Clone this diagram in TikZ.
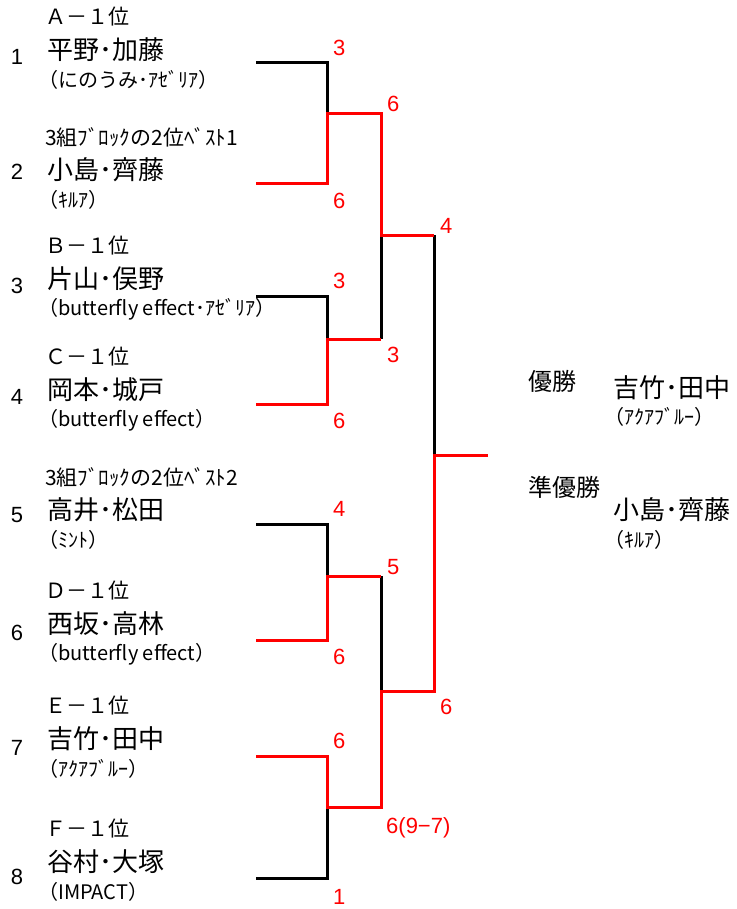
\documentclass[tikz,border=0pt]{standalone}
\usepackage{fontspec}
\setmainfont{Liberation Sans}
\newfontfamily\jp{Noto Sans CJK JP}
\usetikzlibrary{positioning,calc}
\definecolor{winred}{HTML}{FF0000}

\begin{document}
\begin{tikzpicture}[x=1pt,y=-1pt,
  seed/.style={font=\fontsize{22}{22}\selectfont, inner sep=0},
  lbl/.style={font=\jp\fontsize{21}{21}\selectfont, anchor=west, inner sep=0},
  pair/.style={font=\jp\fontsize{26}{26}\selectfont, anchor=west, inner sep=0},
  club/.style={font=\jp\fontsize{20}{20}\selectfont, anchor=west, inner sep=0},
  title/.style={font=\jp\fontsize{24}{24}\selectfont, anchor=west, inner sep=0},
  score/.style={font=\fontsize{22}{22}\selectfont, text=winred, anchor=west, inner sep=0, xshift=6pt},
  hi/.style={score, yshift=#1}, hi/.default=15pt,
  lo/.style={score, yshift=-#1}, lo/.default=17pt,
  lose/.style={line width=3pt, black},
  win/.style={line width=3pt, winred}]

  \useasboundingbox (0,0) rectangle (736,909);

  % ---- Entries -----------------------------------------------
  \foreach \i/\ys/\yl/\lab/\nam/\team in {
    1/57/17/Ａ－１位/平野･加藤/（にのうみ･ｱｾﾞﾘｱ）,
    2/172/137/3組ﾌﾞﾛｯｸの2位ﾍﾞｽﾄ1/小島･齊藤/（ｷﾙｱ）,
    3/286/246/Ｂ－１位/片山･俣野/（butterfly effect･ｱｾﾞﾘｱ）,
    4/397/357/Ｃ－１位/岡本･城戸/（butterfly effect）,
    5/515/477/3組ﾌﾞﾛｯｸの2位ﾍﾞｽﾄ2/高井･松田/（ﾐﾝﾄ）,
    6/633/591/Ｄ－１位/西坂･高林/（butterfly effect）,
    7/748/706/Ｅ－１位/吉竹･田中/（ｱｸｱﾌﾞﾙｰ）,
    8/877/829/Ｆ－１位/谷村･大塚/（IMPACT）}{
    \node[seed] (sd\i) at (17,\ys) {\i};
    \node[lbl] (lb\i) at (45,\yl) {\lab};
    \node[pair] (pr\i) at (47,\yl+33) {\nam};
    \node[club] (cl\i) at (38,\yl+63) {\team};
  }

  % ---- Bracket points ----------------------------------------
  \coordinate (e1) at (256,63);
  \coordinate (e2) at (256,184);
  \coordinate (e3) at (256,296);
  \coordinate (e4) at (256,404);
  \coordinate (e5) at (256,524);
  \coordinate (e6) at (256,640);
  \coordinate (e7) at (256,756);
  \coordinate (e8) at (256,878);
  \coordinate (m1) at (327,114);
  \coordinate (m2) at (327,339);
  \coordinate (m3) at (327,576);
  \coordinate (m4) at (327,807);
  \coordinate (s1) at (381,235);
  \coordinate (s2) at (381,691);
  \coordinate (f) at (434,455);
  \coordinate (w) at (488,455);

  % losers
  \draw[lose] (e1) -| (m1);
  \draw[lose] (e3) -| (m2);
  \draw[lose] (e5) -| (m3);
  \draw[lose] (m4) |- (e8);
  \draw[lose] (s1) -- (s1 |- m2);
  \draw[lose] (s2) -- (s2 |- m3);
  \draw[lose] (s1 -| f) -- (f);

  % winners
  \draw[win] (e2) -| (m1) -| (s1) -- (s1 -| f);
  \draw[win] (e4) -| (m2) -- (m2 -| s1);
  \draw[win] (e6) -| (m3) -- (m3 -| s2);
  \draw[win] (e7) -| (m4) -| (s2) -| (f) -- (w);

  % ---- Scores ------------------------------------------------
  \node[hi] (g1) at (e1 -| m1) {3};
  \node[lo] (g2) at (e2 -| m1) {6};
  \node[hi] (g3) at (e3 -| m2) {3};
  \node[lo] (g4) at (e4 -| m2) {6};
  \node[hi] (g5) at (e5 -| m3) {4};
  \node[lo] (g6) at (e6 -| m3) {6};
  \node[hi] (g7) at (e7 -| m4) {6};
  \node[lo=19pt] (g8) at (e8 -| m4) {1};
  \node[hi=10pt] (h1) at (m1 -| s1) {6};
  \node[lo=16pt] (h2) at (m2 -| s1) {3};
  \node[hi=9pt] (h3) at (m3 -| s2) {5};
  \node[lo=21pt, xshift=-1pt] (h4) at (m4 -| s2) {6(9−7)};
  \node[hi=9pt] (k1) at (s1 -| f) {4};
  \node[lo=16pt] (k2) at (s2 -| f) {6};

  % ---- Results -----------------------------------------------
  \node[title] (chl) at (528,381) {優勝};
  \node[pair] (chn) at (613,388) {吉竹･田中};
  \node[club] (cht) at (604,417) {（ｱｸｱﾌﾞﾙｰ）};
  \node[title] (rul) at (528,487) {準優勝};
  \node[pair] (run) at (613,510) {小島･齊藤};
  \node[club] (rut) at (604,540) {（ｷﾙｱ）};

\end{tikzpicture}
\end{document}
